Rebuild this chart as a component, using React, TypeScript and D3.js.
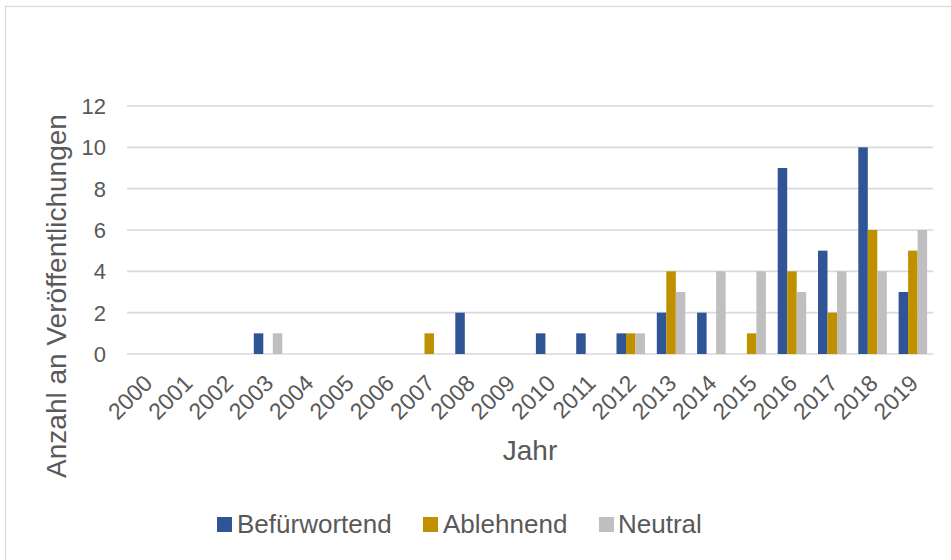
import React from "react";
import * as d3 from "d3";

const years = ["2000","2001","2002","2003","2004","2005","2006","2007","2008","2009","2010","2011","2012","2013","2014","2015","2016","2017","2018","2019"];
const befuerwortend = [0,0,0,1,0,0,0,0,2,0,1,1,1,2,2,0,9,5,10,3];
const ablehnend = [0,0,0,0,0,0,0,1,0,0,0,0,1,4,0,1,4,2,6,5];
const neutral = [0,0,0,1,0,0,0,0,0,0,0,0,1,3,4,4,3,4,4,6];
const seriesNames = ["Befürwortend", "Ablehnend", "Neutral"];
const seriesColors = ["#2F5597", "#BF9000", "#BFBFBF"];
const yTicks = [0, 2, 4, 6, 8, 10, 12];

const W = 951, H = 560;
const FONT = "'Liberation Sans', Arial, sans-serif";
const TXT = "#595959";

export default function App() {
  const plot = { left: 127, right: 933, top: 106, bottom: 354 };
  const x = d3.scaleBand<string>().domain(years).range([plot.left, plot.right]).paddingInner(0).paddingOuter(0);
  const y = d3.scaleLinear().domain([0, 12]).range([plot.bottom, plot.top]);
  const series = [befuerwortend, ablehnend, neutral];
  const groupW = 28.5;
  const barW = groupW / 3;
  const bw = x.bandwidth();

  const legendItems = [
    { sq: 217, tx: 237 },
    { sq: 423, tx: 443 },
    { sq: 599, tx: 618 },
  ];

  return (
    <svg width={W} height={H} style={{ position: "absolute", left: 0, top: 0, background: "#fff" }} fontFamily={FONT}>
      <rect x={0} y={0} width={W} height={H} fill="#fff" />
      <rect x={5.5} y={6.5} width={W + 20} height={H + 20} fill="none" stroke="#D9D9D9" strokeWidth={1.2} />
      {yTicks.map((t) => (
        <g key={t}>
          <line x1={plot.left} x2={plot.right} y1={y(t)} y2={y(t)} stroke="#D9D9D9" strokeWidth={1.6} />
          <text x={106} y={y(t)} dy="0.36em" textAnchor="end" fontSize={22} fill={TXT}>{t}</text>
        </g>
      ))}
      {years.map((yr, i) => {
        const cx = (x(yr) as number) + bw / 2;
        return (
          <g key={yr}>
            {series.map((s, k) => {
              const v = s[i];
              if (!v) return null;
              return (
                <rect key={k} x={cx - groupW / 2 + k * barW} y={y(v)} width={barW} height={y(0) - y(v)} fill={seriesColors[k]} />
              );
            })}
            <text transform={`translate(${cx + 1},${379}) rotate(-45)`} textAnchor="end" dy="0.35em" fontSize={23} fill={TXT}>{yr}</text>
          </g>
        );
      })}
      <text x={(plot.left + plot.right) / 2} y={460} textAnchor="middle" fontSize={28} fill={TXT}>Jahr</text>
      <text transform={`translate(${66},${296}) rotate(-90)`} textAnchor="middle" fontSize={28} fill={TXT}>Anzahl an Veröffentlichungen</text>
      {seriesNames.map((n, k) => (
        <g key={n}>
          <rect x={legendItems[k].sq} y={517} width={15} height={15} fill={seriesColors[k]} />
          <text x={legendItems[k].tx} y={533} fontSize={26} fill={TXT}>{n}</text>
        </g>
      ))}
    </svg>
  );
}
